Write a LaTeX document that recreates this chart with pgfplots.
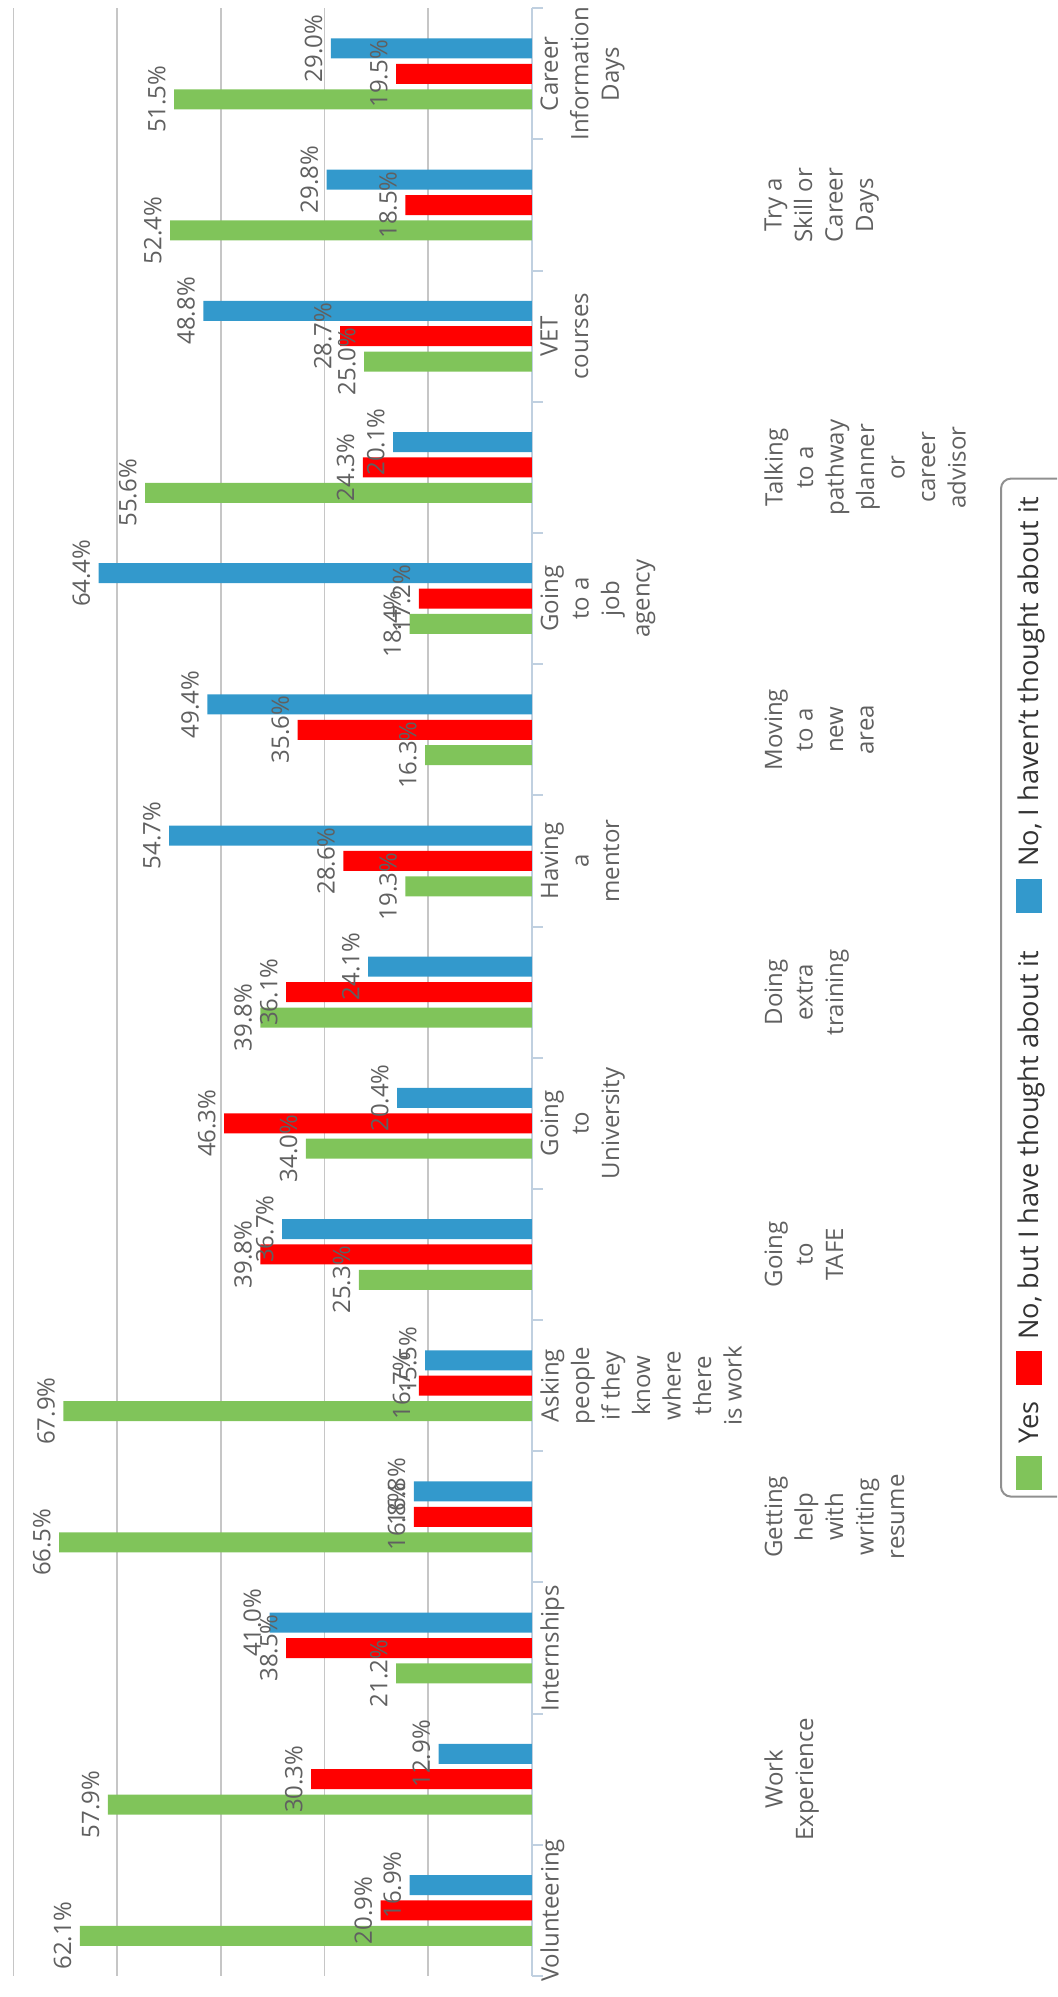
\documentclass[border=0pt]{standalone}
\usepackage{pgfplots}
\pgfplotsset{compat=1.18}
\usepackage{pgfplotstable}
\usepackage{fontspec}
\setmainfont{Open Sans}
\definecolor{cyes}{HTML}{80C45A}
\definecolor{cnob}{HTML}{FF0000}
\definecolor{cno}{HTML}{3399CC}
\definecolor{gridc}{HTML}{C6C6C6}
\definecolor{axisc}{HTML}{C0D0E0}
\definecolor{lblc}{HTML}{606060}
\definecolor{legc}{HTML}{333333}
\definecolor{legborder}{HTML}{909090}

% counts (bar length) and percentage labels
\pgfplotstableread{
y yes yesL nob nobL no noL
0 43.6 62.1 14.6 20.9 11.8 16.9
1 40.9 57.9 21.3 30.3 9.0 12.9
2 13.1 21.2 23.7 38.5 25.3 41.0
3 45.6 66.5 11.4 16.8 11.4 16.8
4 45.2 67.9 10.9 16.7 10.3 15.5
5 16.7 25.3 26.2 39.8 24.1 36.7
6 21.8 34.0 29.7 46.3 13.0 20.4
7 26.2 39.8 23.7 36.1 15.8 24.1
8 12.2 19.3 18.2 28.6 35.0 54.7
9 10.3 16.3 22.6 35.6 31.3 49.4
10 11.8 18.4 10.9 17.2 41.8 64.4
11 37.3 55.6 16.3 24.3 13.4 20.1
12 16.2 25.0 18.5 28.7 31.7 48.8
13 34.9 52.4 12.2 18.5 19.8 29.8
14 34.5 51.5 13.1 19.5 19.4 29.0
}\data

\begin{document}
\begin{tikzpicture}
\useasboundingbox (0,0) rectangle (528.5pt,998.5pt);
\clip (0,0) rectangle (528.5pt,998.5pt);
\begin{axis}[
  at={(136.375pt,502.425pt)}, anchor=center,
  scale only axis, width=259.25pt, height=983.85pt,
  xbar=2.7pt, bar width=10pt,
  x dir=reverse,
  xmin=0, xmax=50, ymin=-0.5, ymax=14.5,
  enlargelimits=false,
  axis line style={draw=none},
  xtick={10,20,30,40,50}, xticklabels={},
  xmajorgrids, grid style={draw=gridc, line width=0.9pt},
  extra x ticks={0}, extra x tick labels={},
  extra x tick style={grid style={draw=axisc, line width=1pt}},
  ytick={0,2,...,14},
  yticklabels={
    {Volunteering},
    {Internships},
    {Asking\\people\\if they\\know\\where\\there\\is work},
    {Going\\to\\University},
    {Having\\a\\mentor},
    {Going\\to a\\job\\agency},
    {VET\\courses},
    {Career\\Information\\Days}},
  extra y ticks={1,3,...,13},
  extra y tick labels={
    {Work\\Experience},
    {Getting\\help\\with\\writing\\resume},
    {Going\\to\\TAFE},
    {Doing\\extra\\training},
    {Moving\\to a\\new\\area},
    {Talking\\to a\\pathway\\planner\\or\\career\\advisor},
    {Try a\\Skill or\\Career\\Days}},
  extra y tick style={yticklabel style={yshift=-112pt}},
  minor ytick={-0.5,0.5,...,14.5},
  ytick pos=right,
  yticklabel pos=right,
  tick align=outside,
  major tick length=0pt,
  minor tick length=5.5pt,
  minor y tick style={draw=axisc, line width=1pt},
  yticklabel style={xshift=4pt, font=\fontsize{12}{15.25}\selectfont, text=lblc, rotate=90, anchor=north, align=center, inner sep=0pt},
  clip=false,
  point meta=explicit symbolic,
  nodes near coords={\pgfplotspointmeta\%},
  nodes near coords style={font=\fontsize{12}{14}\selectfont, text=lblc, rotate=90, anchor=south, inner sep=4pt},
]
\addplot[fill=cyes, draw=none] table[x=yes, y=y, meta=yesL] {\data};
\addplot[fill=cnob, draw=none] table[x=nob, y=y, meta=nobL] {\data};
\addplot[fill=cno, draw=none] table[x=no, y=y, meta=noL] {\data};
\end{axis}
\draw[draw=legborder, line width=1pt, rounded corners=5pt] (500.5pt,250.2pt) rectangle (560pt,759.2pt);
\node[rotate=90, anchor=base west, inner sep=0pt, font=\fontsize{13.6}{16}\selectfont, text=legc] at (519pt,253.2pt)
 {\textcolor{cyes}{\rule[-1.8pt]{17pt}{13pt}}\hspace{6.5pt}Yes\hspace{8pt}\textcolor{cnob}{\rule[-1.8pt]{17pt}{13pt}}\hspace{5.7pt}No, but I have thought about it\hspace{19pt}\textcolor{cno}{\rule[-1.8pt]{17pt}{13pt}}\hspace{6pt}No, I haven't thought about it};
\end{tikzpicture}
\end{document}
